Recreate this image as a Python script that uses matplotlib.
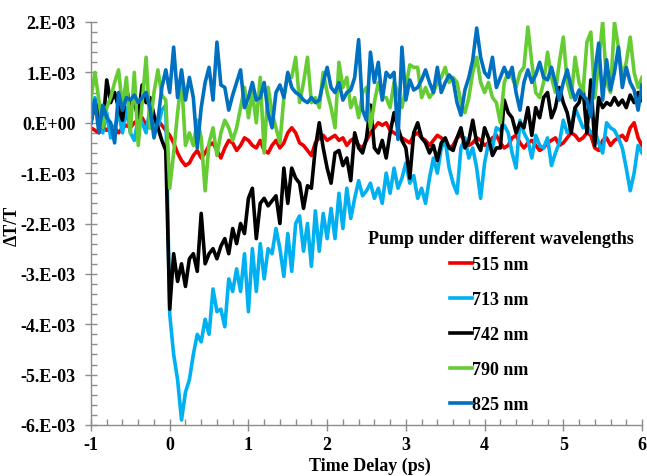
import numpy as np
import matplotlib
matplotlib.use("Agg")
import matplotlib.pyplot as plt
from matplotlib.ticker import MultipleLocator, FuncFormatter

# time delay grid (ps), one reading every 0.05 ps
time_ps = np.round(np.arange(-1.0, 6.0001, 0.05), 2)

# dT/T values in units of 1E-03
wl_515 = [
    -0.1, -0.15, -0.2, -0.1, -0.15, -0.05, -0.1, -0.2, -0.1, -0.05, -0.1, 0.0, 0.05, 0.1, -0.05, -0.1, 0.0, 0.05, -0.05, -0.15,
    -0.25, -0.4, -0.6, -0.75, -0.85, -0.8, -0.65, -0.55, -0.7, -0.6, -0.45, -0.4, -0.55, -0.7, -0.5, -0.35, -0.4, -0.55, -0.45, -0.3,
    -0.35, -0.45, -0.5, -0.35, -0.55, -0.6, -0.45, -0.35, -0.5, -0.4, -0.2, -0.1, -0.2, -0.4, -0.45, -0.55, -0.65, -0.4, -0.3, -0.25,
    -0.35, -0.3, -0.25, -0.35, -0.3, -0.45, -0.35, -0.3, -0.45, -0.5, -0.35, -0.2, -0.1, 0.0, -0.05, 0.0, -0.15, -0.2, -0.25, -0.3,
    -0.35, -0.4, -0.25, -0.2, -0.3, -0.35, -0.45, -0.35, -0.25, -0.3, -0.4, -0.5, -0.45, -0.3, -0.25, -0.35, -0.45, -0.4, -0.3, -0.35,
    -0.45, -0.4, -0.3, -0.25, -0.4, -0.5, -0.45, -0.3, -0.25, -0.4, -0.5, -0.4, -0.35, -0.45, -0.55, -0.5, -0.4, -0.35, -0.3, -0.45,
    -0.4, -0.3, -0.2, -0.25, -0.35, -0.3, -0.2, -0.25, -0.5, -0.55, -0.35, -0.3, -0.45, -0.35, -0.3, -0.25, -0.35, -0.1, 0.0, -0.3,
    -0.45,
]
wl_713 = [
    0.3, 0.5, 0.1, -0.2, 0.2, -0.3, -0.1, 0.2, -0.2, 0.3, -0.2, -0.35, 0.1, 0.0, -0.2, 0.3, 0.0, -0.1, 0.25, 0.35,
    -3.8, -4.6, -5.1, -5.9, -5.35, -5.1, -4.6, -4.2, -4.35, -3.9, -4.2, -3.3, -3.75, -3.7, -4.05, -3.1, -3.35, -2.9, -3.35, -2.6,
    -3.75, -2.5, -3.35, -2.4, -3.1, -2.5, -2.6, -2.1, -2.5, -3.05, -2.2, -2.95, -2.0, -1.85, -2.55, -2.0, -2.85, -1.75, -2.55, -1.8,
    -2.3, -1.7, -2.3, -1.4, -2.1, -1.3, -1.9, -1.5, -1.15, -1.45, -1.35, -1.2, -1.5, -1.3, -1.6, -1.0, -1.4, -0.9, -1.3, -1.1,
    -0.8, -1.2, -1.05, -1.5, -1.3, -1.6, -1.1, -0.7, -1.0, -0.5, -0.35, -0.9, -1.2, -1.4, -0.5, -0.3, -0.7, -0.5, -0.9, -1.5,
    -0.8, -0.4, -0.5, -0.1, -0.15, -0.05, -0.2, -0.6, -0.9, 0.05, -0.2, -0.35, -0.7, -0.25, -0.45, -0.5, -0.3, -0.85, -0.6, -0.4,
    0.05, -0.2, -0.1, 0.3, 0.1, -0.1, -0.05, -0.2, -0.15, -0.4, -0.6, 0.0, -0.1, -0.15, -0.3, -0.5, -0.9, -1.35, -1.0, -0.45,
    -0.6,
]
wl_742 = [
    0.0, 0.4, 0.2, -0.1, 0.85, 0.4, 0.6, 0.3, 0.05, 0.7, 0.3, 0.4, 0.1, 0.75, 0.4, 0.5, 0.15, -0.1, -0.35, -0.55,
    -3.7, -2.6, -3.15, -2.8, -3.25, -2.7, -2.6, -2.95, -1.8, -2.8, -2.6, -2.5, -2.7, -2.45, -2.3, -2.6, -2.1, -2.4, -2.0, -2.2,
    -1.5, -1.3, -2.3, -1.6, -1.5, -1.65, -1.55, -1.45, -2.0, -0.9, -1.6, -0.9, -1.1, -1.2, -1.7, -1.25, -1.3, -0.5, 0.0, -0.5,
    -0.9, -1.2, -0.6, -0.55, -0.85, -0.7, -1.15, -0.2, -0.5, -0.6, -0.3, 0.35, -0.5, -0.6, -0.35, -0.7, -0.2, 0.2, -0.1, -0.35,
    -0.5, -1.1, -0.2, 0.0, -0.3, -0.4, -0.6, -0.45, -0.75, -0.4, -0.3, -0.5, -0.55, -0.3, -0.1, -0.5, -0.35, 0.05, -0.4, -0.55,
    -0.1, -0.3, -0.65, -0.5, -0.5, 0.45, 0.2, 0.1, -0.2, 0.0, -0.1, 0.3, -0.25, 0.3, 0.1, 0.5, 0.6, 0.1, 0.3, 0.7,
    0.4, 0.2, -0.2, 0.3, 0.4, 0.7, -0.2, 0.85, -0.45, 0.5, 0.3, 0.4, 0.35, 0.5, 0.35, 0.45, 0.3, 0.55, 0.4, 0.6,
    0.45,
]
wl_790 = [
    0.5, 1.0, 0.45, -0.1, 0.3, 0.5, 0.8, 1.05, 0.3, 0.9, -0.2, 1.0, -0.45, 0.4, 1.3, -0.1, 0.6, 1.05, 0.55, 0.45,
    -1.3, -0.6, 0.2, 0.85, -0.45, -0.2, -0.45, 0.05, -0.3, -1.35, -0.4, -0.1, -0.65, -0.2, 0.05, -0.1, -0.35, -0.1, 0.3, 0.7,
    0.1, 0.6, 0.0, 0.9, -0.6, 0.7, 0.2, -0.1, -0.4, 0.5, 0.95, 0.9, 1.3, 0.4, 0.8, 1.3, 0.4, 0.5, 0.3, 1.0,
    0.6, 0.3, -0.1, 1.2, 0.7, 0.9, 0.3, 0.5, 0.1, 0.6, 0.7, -0.1, 0.4, 0.8, 0.5, 0.5, 0.3, 0.8, 0.6, 0.3,
    0.7, 1.15, 1.1, 1.1, 0.5, 0.7, 0.5, 0.6, 0.8, 0.9, 1.1, 0.8, 0.9, 0.8, 0.4, 0.2, 0.5, 1.0, 1.3, 0.8,
    0.6, 0.8, 0.5, 0.4, 0.0, 0.8, 1.0, 0.9, 0.7, 1.0, 1.1, 1.9, 1.2, 0.6, 0.5, 0.8, 1.4, 0.9, 0.6, 1.2,
    1.7, 0.8, 0.5, 1.3, 0.8, 0.6, 1.6, 1.8, 0.5, 1.2, 2.0, 0.8, 0.6, 2.0, 1.5, 0.9, 1.2, 1.7, 1.0, 0.7,
    0.9,
]
wl_825 = [
    0.0, 0.45, -0.2, 0.35, 0.1, 0.0, -0.4, 0.6, 0.25, 0.5, 0.45, 0.55, 0.4, 0.5, 0.6, 0.3, -0.3, 0.05, 0.7, 1.05,
    0.6, 1.5, 0.5, 1.05, 0.45, 0.9, 0.5, -0.5, 0.3, 0.8, 1.1, 0.45, 1.6, 0.75, 0.7, 0.25, 0.55, 0.8, 1.05, 0.3,
    0.5, 0.8, 0.45, 0.5, 0.8, 0.2, -0.1, 0.6, 0.75, 0.5, 1.0, 0.7, 0.6, 0.55, 0.45, 0.4, 0.5, 0.4, 0.45, 0.8,
    1.1, 0.7, 0.6, 0.8, 0.45, 0.6, 0.65, 0.9, 1.65, 0.25, 0.05, 1.4, 0.8, 1.2, 0.45, 1.0, 0.9, 1.0, -0.33, 1.5,
    0.45, 0.85, 0.65, 0.7, 0.85, 1.05, 0.8, 0.6, 1.1, 0.6, 0.8, 0.95, 0.85, 0.4, 0.15, 0.65, 0.9, 1.25, 1.88, 1.3,
    1.0, 0.9, 1.3, 0.7, 0.9, 1.1, 0.9, 1.1, 0.6, 0.25, 0.8, 1.05, 0.8, 0.95, 1.2, 0.9, 0.85, 1.1, 0.8, 0.45,
    0.8, 1.05, 0.7, 0.45, 0.65, 0.55, 0.45, 0.12, 1.0, 1.58, 0.45, 1.25, 0.65, 1.0, 1.5, 0.7, 1.1, 0.8, 0.65, 0.25,
    0.75,
]

labels = ["515 nm", "713 nm", "742 nm", "790 nm", "825 nm"]
colors = ["#EE0000", "#00B0F0", "#000000", "#66CC33", "#0070C0"]
series = [wl_515, wl_713, wl_742, wl_790, wl_825]

plt.rcParams['font.family'] = ['Liberation Serif', 'DejaVu Serif']
plt.rcParams['font.weight'] = 'bold'

fig = plt.figure(figsize=(6.47, 4.77), dpi=100)
ax = fig.add_axes([91 / 647, 1 - 426 / 477, 551 / 647, 403 / 477])

for vals, lab, col in zip(series, labels, colors):
    ax.plot(time_ps, np.array(vals) * 1e-3, color=col, lw=2.6, label=lab,
            solid_joinstyle='round')

ax.set_xlim(-1, 6)
ax.set_ylim(-6e-3, 2e-3)
ax.xaxis.set_major_locator(MultipleLocator(1))
ax.xaxis.set_minor_locator(MultipleLocator(0.2))
ax.yaxis.set_major_locator(MultipleLocator(1e-3))
ax.yaxis.set_minor_locator(MultipleLocator(0.2e-3))
ax.yaxis.set_major_formatter(FuncFormatter(lambda v, p: f"{v:#.0E}"))
ax.xaxis.set_major_formatter(FuncFormatter(lambda v, p: f"{v:.0f}"))

axis_col = '#8C8C8C'
for s in ['top', 'right']:
    ax.spines[s].set_visible(False)
for s in ['left', 'bottom']:
    ax.spines[s].set_color(axis_col)
    ax.spines[s].set_linewidth(1.0)
ax.tick_params(which='major', direction='inout', length=8, width=1, color=axis_col,
               labelsize=13, labelcolor='black')
ax.tick_params(which='minor', direction='in', length=4, width=1, color=axis_col)
ax.tick_params(axis='y', which='major', pad=7)
ax.tick_params(axis='x', which='major', pad=4)
for t in ax.get_xticklabels() + ax.get_yticklabels():
    t.set_fontweight('bold')

fig.text(12 / 647, 1 - 226 / 477, "ΔT/T", rotation=90, ha='center', va='center',
         fontsize=13, fontweight='bold')
fig.text(370 / 647, 1 - 466 / 477, "Time Delay (ps)", ha='center', va='center',
         fontsize=13, fontweight='bold')

# legend title drawn separately so its gap to the entries can match
fig.text(501 / 647, 1 - 240 / 477, "Pump under different wavelengths",
         ha='center', va='center', fontsize=13, fontweight='bold')
leg = ax.legend(loc='upper left',
                bbox_to_anchor=(450 / 647, 1 - 257 / 477), bbox_transform=fig.transFigure,
                frameon=False, handlelength=1.2, handletextpad=0.0, labelspacing=1.0,
                borderpad=0, borderaxespad=0, prop={'weight': 'bold', 'size': 13})
for h in leg.get_lines():
    h.set_linewidth(2.6)

fig.savefig("out.png", dpi=100)
